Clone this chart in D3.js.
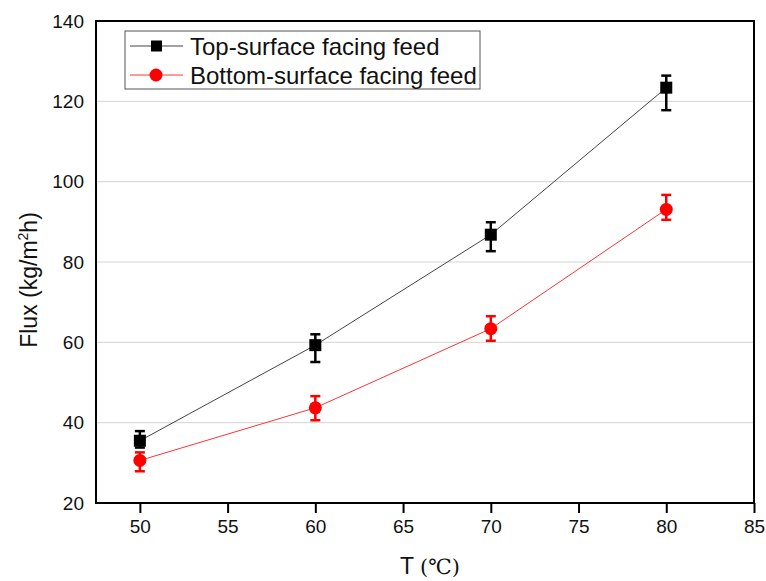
<!DOCTYPE html>
<html><head><meta charset="utf-8">
<script src="https://cdn.jsdelivr.net/npm/d3@7"></script>
<style>body{margin:0;background:#fff}svg{display:block}text{font-family:Arial,"Liberation Sans",sans-serif}</style>
</head><body><svg id="c" width="766" height="581"></svg>
<script>
const temps = [50, 60, 70, 80];
const topFlux = [35.5, 59.3, 86.8, 123.4];
const topErrHi = [37.9, 62.0, 89.9, 126.4];
const topErrLo = [33.8, 55.1, 82.7, 117.8];
const botFlux = [30.6, 43.7, 63.4, 93.1];
const botErrHi = [32.6, 46.6, 66.5, 96.7];
const botErrLo = [27.9, 40.6, 60.4, 90.5];
const xTicks = [50, 55, 60, 65, 70, 75, 80, 85];
const yTicks = [20, 40, 60, 80, 100, 120, 140];
const seriesNames = ["Top-surface facing feed", "Bottom-surface facing feed"];

const svg = d3.select("#c");
const L = 96, R = 754, T = 21, B = 503;
const x = d3.scaleLinear().domain([47.5, 85]).range([L, R]);
const y = d3.scaleLinear().domain([20, 140]).range([B, T]);

// grid
svg.append("g").selectAll("line").data(yTicks.filter(v => v > 20 && v < 140)).join("line")
  .attr("x1", L).attr("x2", R).attr("y1", d => y(d)).attr("y2", d => y(d))
  .attr("stroke", "#d4d4d4").attr("stroke-width", 1);

// axes
const xAxis = svg.append("g").attr("transform", `translate(0,${B})`)
  .call(d3.axisBottom(x).tickValues(xTicks).tickSize(10).tickPadding(7).tickFormat(d3.format("d")));
const yAxis = svg.append("g").attr("transform", `translate(${L},0)`)
  .call(d3.axisLeft(y).tickValues(yTicks).tickSize(0).tickPadding(12).tickFormat(d3.format("d")));
[xAxis, yAxis].forEach(g => {
  g.select(".domain").remove();
  g.selectAll("line").attr("stroke", "#000").attr("stroke-width", 2);
  g.selectAll("text").attr("font-size", 19).attr("fill", "#111").style("font-family", "Arial, 'Liberation Sans', sans-serif");
});
svg.append("rect").attr("x", L).attr("y", T).attr("width", R - L).attr("height", B - T)
  .attr("fill", "none").attr("stroke", "#000").attr("stroke-width", 2);

const series = [
  {v: topFlux, hi: topErrHi, lo: topErrLo, color: "#000", line: "#444", shape: "sq"},
  {v: botFlux, hi: botErrHi, lo: botErrLo, color: "#f00", line: "#f33", shape: "ci"}
];
const line = d3.line().x((d, i) => x(temps[i])).y(d => y(d));
series.forEach(s => {
  const g = svg.append("g");
  g.append("path").attr("d", line(s.v)).attr("fill", "none").attr("stroke", s.line).attr("stroke-width", 1);
  temps.forEach((t, i) => {
    const cx = x(t);
    g.append("line").attr("x1", cx).attr("x2", cx).attr("y1", y(s.hi[i])).attr("y2", y(s.lo[i])).attr("stroke", s.color).attr("stroke-width", 2.5);
    [s.hi[i], s.lo[i]].forEach(e => g.append("line").attr("x1", cx - 5).attr("x2", cx + 5).attr("y1", y(e)).attr("y2", y(e)).attr("stroke", s.color).attr("stroke-width", 2.5));
    if (s.shape === "sq") g.append("rect").attr("x", cx - 6).attr("y", y(s.v[i]) - 6).attr("width", 12).attr("height", 12).attr("fill", s.color);
    else g.append("circle").attr("cx", cx).attr("cy", y(s.v[i])).attr("r", 6.5).attr("fill", s.color);
  });
});

// legend
const lg = svg.append("g");
lg.append("rect").attr("x", 125).attr("y", 31).attr("width", 355).attr("height", 58).attr("fill", "#fff").attr("stroke", "#555").attr("stroke-width", 1);
series.forEach((s, i) => {
  const yy = 46 + i * 29;
  lg.append("line").attr("x1", 130).attr("x2", 183).attr("y1", yy).attr("y2", yy).attr("stroke", s.line).attr("stroke-width", 1);
  if (s.shape === "sq") lg.append("rect").attr("x", 151).attr("y", yy - 5.5).attr("width", 11).attr("height", 11).attr("fill", s.color);
  else lg.append("circle").attr("cx", 156).attr("cy", yy).attr("r", 6.5).attr("fill", s.color);
  lg.append("text").attr("x", 190).attr("y", yy).attr("dy", "0.36em").attr("font-size", 24).attr("fill", "#111").text(seriesNames[i]);
});

// axis titles
const xt = svg.append("text").attr("x", 400).attr("y", 574).attr("font-size", 23).attr("fill", "#111");
xt.append("tspan").text("T ");
xt.append("tspan").style("font-family", "'DejaVu Serif', 'Noto Sans CJK SC', serif").attr("font-size", 21).text("(℃)");
const yt = svg.append("text").attr("transform", "translate(37,280) rotate(-90)").attr("text-anchor", "middle").attr("font-size", 23).attr("fill", "#111");
yt.append("tspan").text("Flux (kg/m");
yt.append("tspan").attr("font-size", 14).attr("dy", -9).text("2");
yt.append("tspan").attr("dy", 9).text("h)");
</script></body></html>
